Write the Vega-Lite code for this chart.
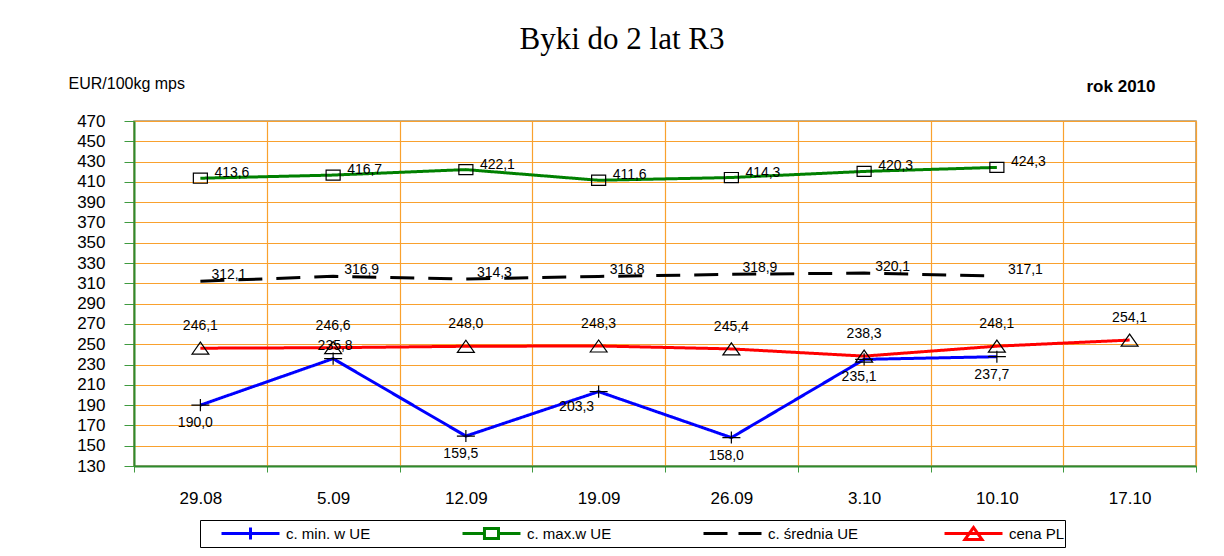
{
  "$schema": "https://vega.github.io/schema/vega-lite/v6.json",
  "width": 1062,
  "height": 345,
  "autosize": {"type": "none"},
  "padding": {"left": 134, "top": 121, "right": 28, "bottom": 90},
  "background": "white",
  "config": {
    "locale": {"number": {"decimal": ",", "thousands": " ", "grouping": [3], "currency": ["", " €"]}},
    "view": {"stroke": "#a8946f", "strokeWidth": 1.5},
    "font": "Liberation Sans"
  },
  "title": {
    "text": "Byki do 2 lat R3",
    "font": "Liberation Serif",
    "fontSize": 31,
    "fontWeight": "normal",
    "color": "black",
    "anchor": "middle",
    "frame": "group",
    "offset": 19,
    "dx": -43
  },
  "data": {
    "values": [
      {"date": "29.08", "series": "c. min. w UE", "value": 190.0},
      {"date": "5.09", "series": "c. min. w UE", "value": 235.8},
      {"date": "12.09", "series": "c. min. w UE", "value": 159.5},
      {"date": "19.09", "series": "c. min. w UE", "value": 203.3},
      {"date": "26.09", "series": "c. min. w UE", "value": 158.0},
      {"date": "3.10", "series": "c. min. w UE", "value": 235.1},
      {"date": "10.10", "series": "c. min. w UE", "value": 237.7},
      {"date": "29.08", "series": "c. max.w UE", "value": 413.6},
      {"date": "5.09", "series": "c. max.w UE", "value": 416.7},
      {"date": "12.09", "series": "c. max.w UE", "value": 422.1},
      {"date": "19.09", "series": "c. max.w UE", "value": 411.6},
      {"date": "26.09", "series": "c. max.w UE", "value": 414.3},
      {"date": "3.10", "series": "c. max.w UE", "value": 420.3},
      {"date": "10.10", "series": "c. max.w UE", "value": 424.3},
      {"date": "29.08", "series": "c. średnia UE", "value": 312.1},
      {"date": "5.09", "series": "c. średnia UE", "value": 316.9},
      {"date": "12.09", "series": "c. średnia UE", "value": 314.3},
      {"date": "19.09", "series": "c. średnia UE", "value": 316.8},
      {"date": "26.09", "series": "c. średnia UE", "value": 318.9},
      {"date": "3.10", "series": "c. średnia UE", "value": 320.1},
      {"date": "10.10", "series": "c. średnia UE", "value": 317.1},
      {"date": "29.08", "series": "cena PL", "value": 246.1},
      {"date": "5.09", "series": "cena PL", "value": 246.6},
      {"date": "12.09", "series": "cena PL", "value": 248.0},
      {"date": "19.09", "series": "cena PL", "value": 248.3},
      {"date": "26.09", "series": "cena PL", "value": 245.4},
      {"date": "3.10", "series": "cena PL", "value": 238.3},
      {"date": "10.10", "series": "cena PL", "value": 248.1},
      {"date": "17.10", "series": "cena PL", "value": 254.1}
    ]
  },
  "encoding": {
    "x": {
      "field": "date",
      "type": "ordinal",
      "sort": ["29.08", "5.09", "12.09", "19.09", "26.09", "3.10", "10.10", "17.10"],
      "scale": {"type": "band", "paddingInner": 0, "paddingOuter": 0},
      "axis": {
        "title": "rok 2010",
        "titleX": 1021,
        "titleY": -380,
        "titleAlign": "right",
        "titleBaseline": "middle",
        "titleFont": "Liberation Sans",
        "titleFontSize": 17,
        "titleFontWeight": "bold",
        "titleColor": "black",
        "labelAngle": 0,
        "labelFont": "Liberation Sans",
        "labelFontSize": 17,
        "labelColor": "black",
        "labelPadding": 18,
        "tickBand": "extent",
        "tickSize": 6,
        "tickColor": "#3f9a3f",
        "domainColor": "#2e8b2e",
        "domainWidth": 2,
        "grid": true,
        "gridColor": "#f9a12e",
        "gridWidth": 1.2
      }
    },
    "y": {
      "field": "value",
      "type": "quantitative",
      "scale": {"domain": [130, 470], "nice": false, "zero": false},
      "axis": {
        "title": "EUR/100kg mps",
        "titleAngle": 0,
        "titleX": -66,
        "titleY": -38,
        "titleAlign": "left",
        "titleBaseline": "middle",
        "titleFont": "Liberation Sans",
        "titleFontSize": 16,
        "titleFontWeight": "normal",
        "titleColor": "black",
        "values": [130, 150, 170, 190, 210, 230, 250, 270, 290, 310, 330, 350, 370, 390, 410, 430, 450, 470],
        "labelFont": "Liberation Sans",
        "labelFontSize": 17,
        "labelColor": "black",
        "labelPadding": 19,
        "tickSize": 10,
        "tickColor": "#3f9a3f",
        "domainColor": "#2e8b2e",
        "domainWidth": 2,
        "grid": true,
        "gridColor": "#f9a12e",
        "gridWidth": 1.2,
        "encode": {"grid": {"update": {"strokeOpacity": {"signal": "datum.value >= 470 ? 0 : 1"}}}}
      }
    }
  },
  "layer": [
    {
      "mark": {"type": "line", "strokeWidth": 3},
      "encoding": {
        "color": {
          "field": "series",
          "type": "nominal",
          "scale": {
            "domain": ["c. min. w UE", "c. max.w UE", "c. średnia UE", "cena PL"],
            "range": ["#0000ff", "#008000", "#000000", "#ff0000"]
          },
          "legend": {
            "orient": "none",
            "legendX": 66,
            "legendY": 399,
            "direction": "horizontal",
            "columns": 4,
            "gridAlign": "all",
            "title": null,
            "strokeColor": "black",
            "padding": 0,
            "symbolSize": 6084,
            "symbolStrokeWidth": 3,
            "labelFont": "Liberation Sans",
            "labelFontSize": 15,
            "labelColor": "black",
            "labelOffset": 5,
            "columnPadding": 64,
            "clipHeight": 27,
            "encode": {
              "symbols": {
                "update": {
                  "shape": {"signal": "datum.value === 'c. min. w UE' ? 'M-0.487,0H1M0.256,-0.154V0.154' : datum.value === 'c. max.w UE' ? 'M-0.487,0H0.076M0.436,0H1M0.076,-0.128H0.436V0.128H0.076Z' : datum.value === 'cena PL' ? 'M-0.487,0H1M0.038,0.154L0.256,-0.154L0.474,0.154Z' : 'M-0.487,0H0.154M0.41,0H1'"},
                  "strokeDash": {"value": []}
                }
              }
            }
          }
        },
        "strokeDash": {
          "field": "series",
          "type": "nominal",
          "scale": {
            "domain": ["c. min. w UE", "c. max.w UE", "c. średnia UE", "cena PL"],
            "range": [[1, 0], [1, 0], [24, 14], [1, 0]]
          },
          "legend": null
        }
      }
    },
    {
      "transform": [{"filter": "datum.series !== 'c. średnia UE'"}],
      "mark": {"type": "point", "filled": false, "stroke": "black", "strokeWidth": 1.2, "opacity": 1, "size": 324},
      "encoding": {
        "shape": {
          "field": "series",
          "type": "nominal",
          "scale": {
            "domain": ["c. min. w UE", "c. max.w UE", "cena PL"],
            "range": ["M-1,0H1M0,-0.67V0.67", "M-0.78,-0.56H0.78V0.56H-0.78Z", "M-0.94,0.67L0,-0.67L0.94,0.67Z"]
          },
          "legend": null
        }
      }
    },
    {
      "transform": [{"filter": "datum.series === 'c. max.w UE'"}],
      "mark": {"type": "text", "align": "left", "dx": 14, "dy": -5, "fontSize": 14, "font": "Liberation Sans", "color": "black"},
      "encoding": {"text": {"field": "value", "type": "quantitative", "format": ".1f"}}
    },
    {
      "transform": [{"filter": "datum.series === 'c. średnia UE'"}],
      "mark": {"type": "text", "align": "left", "dx": 11, "dy": -6, "fontSize": 14, "font": "Liberation Sans", "color": "black"},
      "encoding": {"text": {"field": "value", "type": "quantitative", "format": ".1f"}}
    },
    {
      "transform": [{"filter": "datum.series === 'cena PL'"}],
      "mark": {"type": "text", "align": "center", "dy": -22, "fontSize": 14, "font": "Liberation Sans", "color": "black"},
      "encoding": {"text": {"field": "value", "type": "quantitative", "format": ".1f"}}
    },
    {
      "transform": [{"filter": "datum.series === 'c. min. w UE' && datum.date !== '5.09' && datum.date !== '19.09'"}],
      "mark": {"type": "text", "align": "center", "dx": -5, "dy": 18, "fontSize": 14, "font": "Liberation Sans", "color": "black"},
      "encoding": {"text": {"field": "value", "type": "quantitative", "format": ".1f"}}
    },
    {
      "transform": [{"filter": "datum.series === 'c. min. w UE' && datum.date === '5.09'"}],
      "mark": {"type": "text", "align": "center", "dx": 2, "dy": -13, "fontSize": 14, "font": "Liberation Sans", "color": "black"},
      "encoding": {"text": {"field": "value", "type": "quantitative", "format": ".1f"}}
    },
    {
      "transform": [{"filter": "datum.series === 'c. min. w UE' && datum.date === '19.09'"}],
      "mark": {"type": "text", "align": "center", "dx": -22, "dy": 15, "fontSize": 14, "font": "Liberation Sans", "color": "black"},
      "encoding": {"text": {"field": "value", "type": "quantitative", "format": ".1f"}}
    }
  ]
}
